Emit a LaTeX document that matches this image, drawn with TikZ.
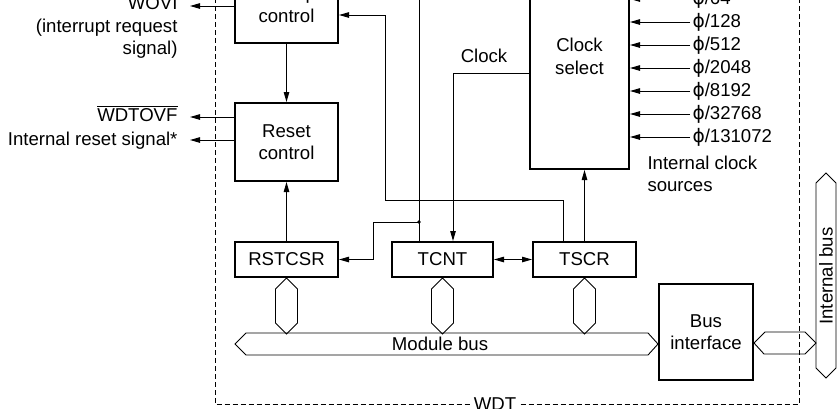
\documentclass[tikz,border=0pt]{standalone}
\usepackage{fontspec}
\setmainfont{Liberation Sans}
\newfontfamily\phifont{DejaVu Sans}
\usetikzlibrary{arrows.meta}
\newcommand{\ph}{{\phifont ϕ}}

\begin{document}
\begin{tikzpicture}[x=1pt,y=-1pt,line width=1pt,
  font={\fontsize{18.6pt}{22.5pt}\selectfont},
  box/.style={draw, line width=2pt, align=center, inner sep=0pt},
  lbl/.style={inner sep=0pt},
  sig/.style={-{Triangle[length=10pt,width=5.5pt]}},
  sigboth/.style={{Triangle[length=10pt,width=5.5pt]}-{Triangle[length=10pt,width=5.5pt]}},
  bus/.style={line width=0.9pt, line join=miter},
  wdtline/.style={dash pattern=on 5pt off 3pt}]
\useasboundingbox (0,0) rectangle (837,408);
\clip (0,0) rectangle (837,408);

% WDT border
\draw[wdtline] (215,-50) rectangle (799,404.5);
\node[fill=white, inner sep=2pt, anchor=base] (wdt) at (495,410) {WDT};

% blocks
\node[box, minimum width=103pt, minimum height=77pt] (intc) at (286.5,4.5) {Interrupt\\control};
\node[box, minimum width=103pt, minimum height=78pt] (resc) at (286.5,142) {Reset\\control};
\node[box, minimum width=103pt, minimum height=35pt] (rstcsr) at (286.5,259.5) {RSTCSR};
\node[box, minimum width=101pt, minimum height=35pt] (tcnt) at (442.5,259.5) {TCNT};
\node[box, minimum width=103pt, minimum height=35pt] (tscr) at (584.5,259.5) {TSCR};
\node[box, minimum width=99pt, minimum height=225pt] (clks) at (579.5,56.5) {Clock\\select};
\node[box, minimum width=94pt, minimum height=96pt] (busif) at (706,332) {Bus\\interface};

% outputs on the left
\node[lbl, anchor=base east] (wovi) at (178,9) {WOVI};
\node[lbl, anchor=base east] (wovi2) at (178,32) {(interrupt request};
\node[lbl, anchor=base east] (wovi3) at (178,54) {signal)};
\node[lbl, anchor=base east] (wdtovf) at (178,121) {$\overline{\mbox{WDTOVF}}$};
\node[lbl, anchor=base east] (irst) at (178,145) {Internal reset signal*};
\coordinate (woviend) at (190,6);
\coordinate (wdtovfend) at (190,117);
\coordinate (irstend) at (190,140);
\draw[sig] (intc.west |- woviend) -- (woviend);
\draw[sig] (resc.west |- wdtovfend) -- (wdtovfend);
\draw[sig] (resc.west |- irstend) -- (irstend);

% internal connections
\draw[sig] (intc.south) -- (resc.north);
\draw[sig] (rstcsr.north) -- (resc.south);
\draw[sig] (tscr.north) -- (tscr.north |- clks.south);
\draw[sigboth] (tcnt.east) -- (tscr.west);
\draw[sig] ([xshift=-21.5pt]tscr.north) |- (385,200) |- (intc.east |- 0,15);
\draw[sig] (clks.west |- 0,73) -| ([xshift=10.5pt]tcnt.north);
\node[lbl, anchor=base] (clk) at (484,62) {Clock};
\coordinate (tcnttop) at (419,-10);
\coordinate (jn) at (419,222);
\draw ([xshift=-23.5pt]tcnt.north) -- (tcnttop);
\draw[sig] (jn) -- ++(-46,0) |- (rstcsr.east);
\fill (jn) circle (1.8);

% clock sources
\foreach \lab [count=\i from 0] in {64,128,512,2048,8192,32768,131072} {
  \coordinate (in\i) at (690,{-1+23*\i});
  \node[lbl, anchor=base west] (src\i) at (692,{4.5+23*\i}) {\ph/\lab};
  \draw[sig] (in\i) -- (clks.east |- in\i);
}
\node[lbl, anchor=west, align=left] (srcs) at (647,174) {Internal clock\\sources};

% buses
\foreach \r in {rstcsr,tcnt,tscr} {
  \draw[bus] (\r.south) -- ++(11,11) -- ++(0,34) -- ++(-11,11) -- ++(-11,-11) -- ++(0,-34) -- cycle;
}
\coordinate (mbl) at (235,344);
\draw[bus] (mbl) -- ++(11,-11) -- (648,333) -- (busif.west |- mbl) -- (648,355) -- (246,355) -- cycle;
\node (mbus) at (440,344) {Module bus};
\draw[bus] (busif.east |- 0,343) -- ++(11,-11) -- (805,332) -- (816,343) -- (805,354) -- (764,354) -- cycle;
\draw[bus] (826,173) -- ++(10,10) -- (836,368) -- (826,378) -- (816,368) -- (816,183) -- cycle;
\node[rotate=90] (ibus) at (826,276) {Internal bus};
\end{tikzpicture}
\end{document}
